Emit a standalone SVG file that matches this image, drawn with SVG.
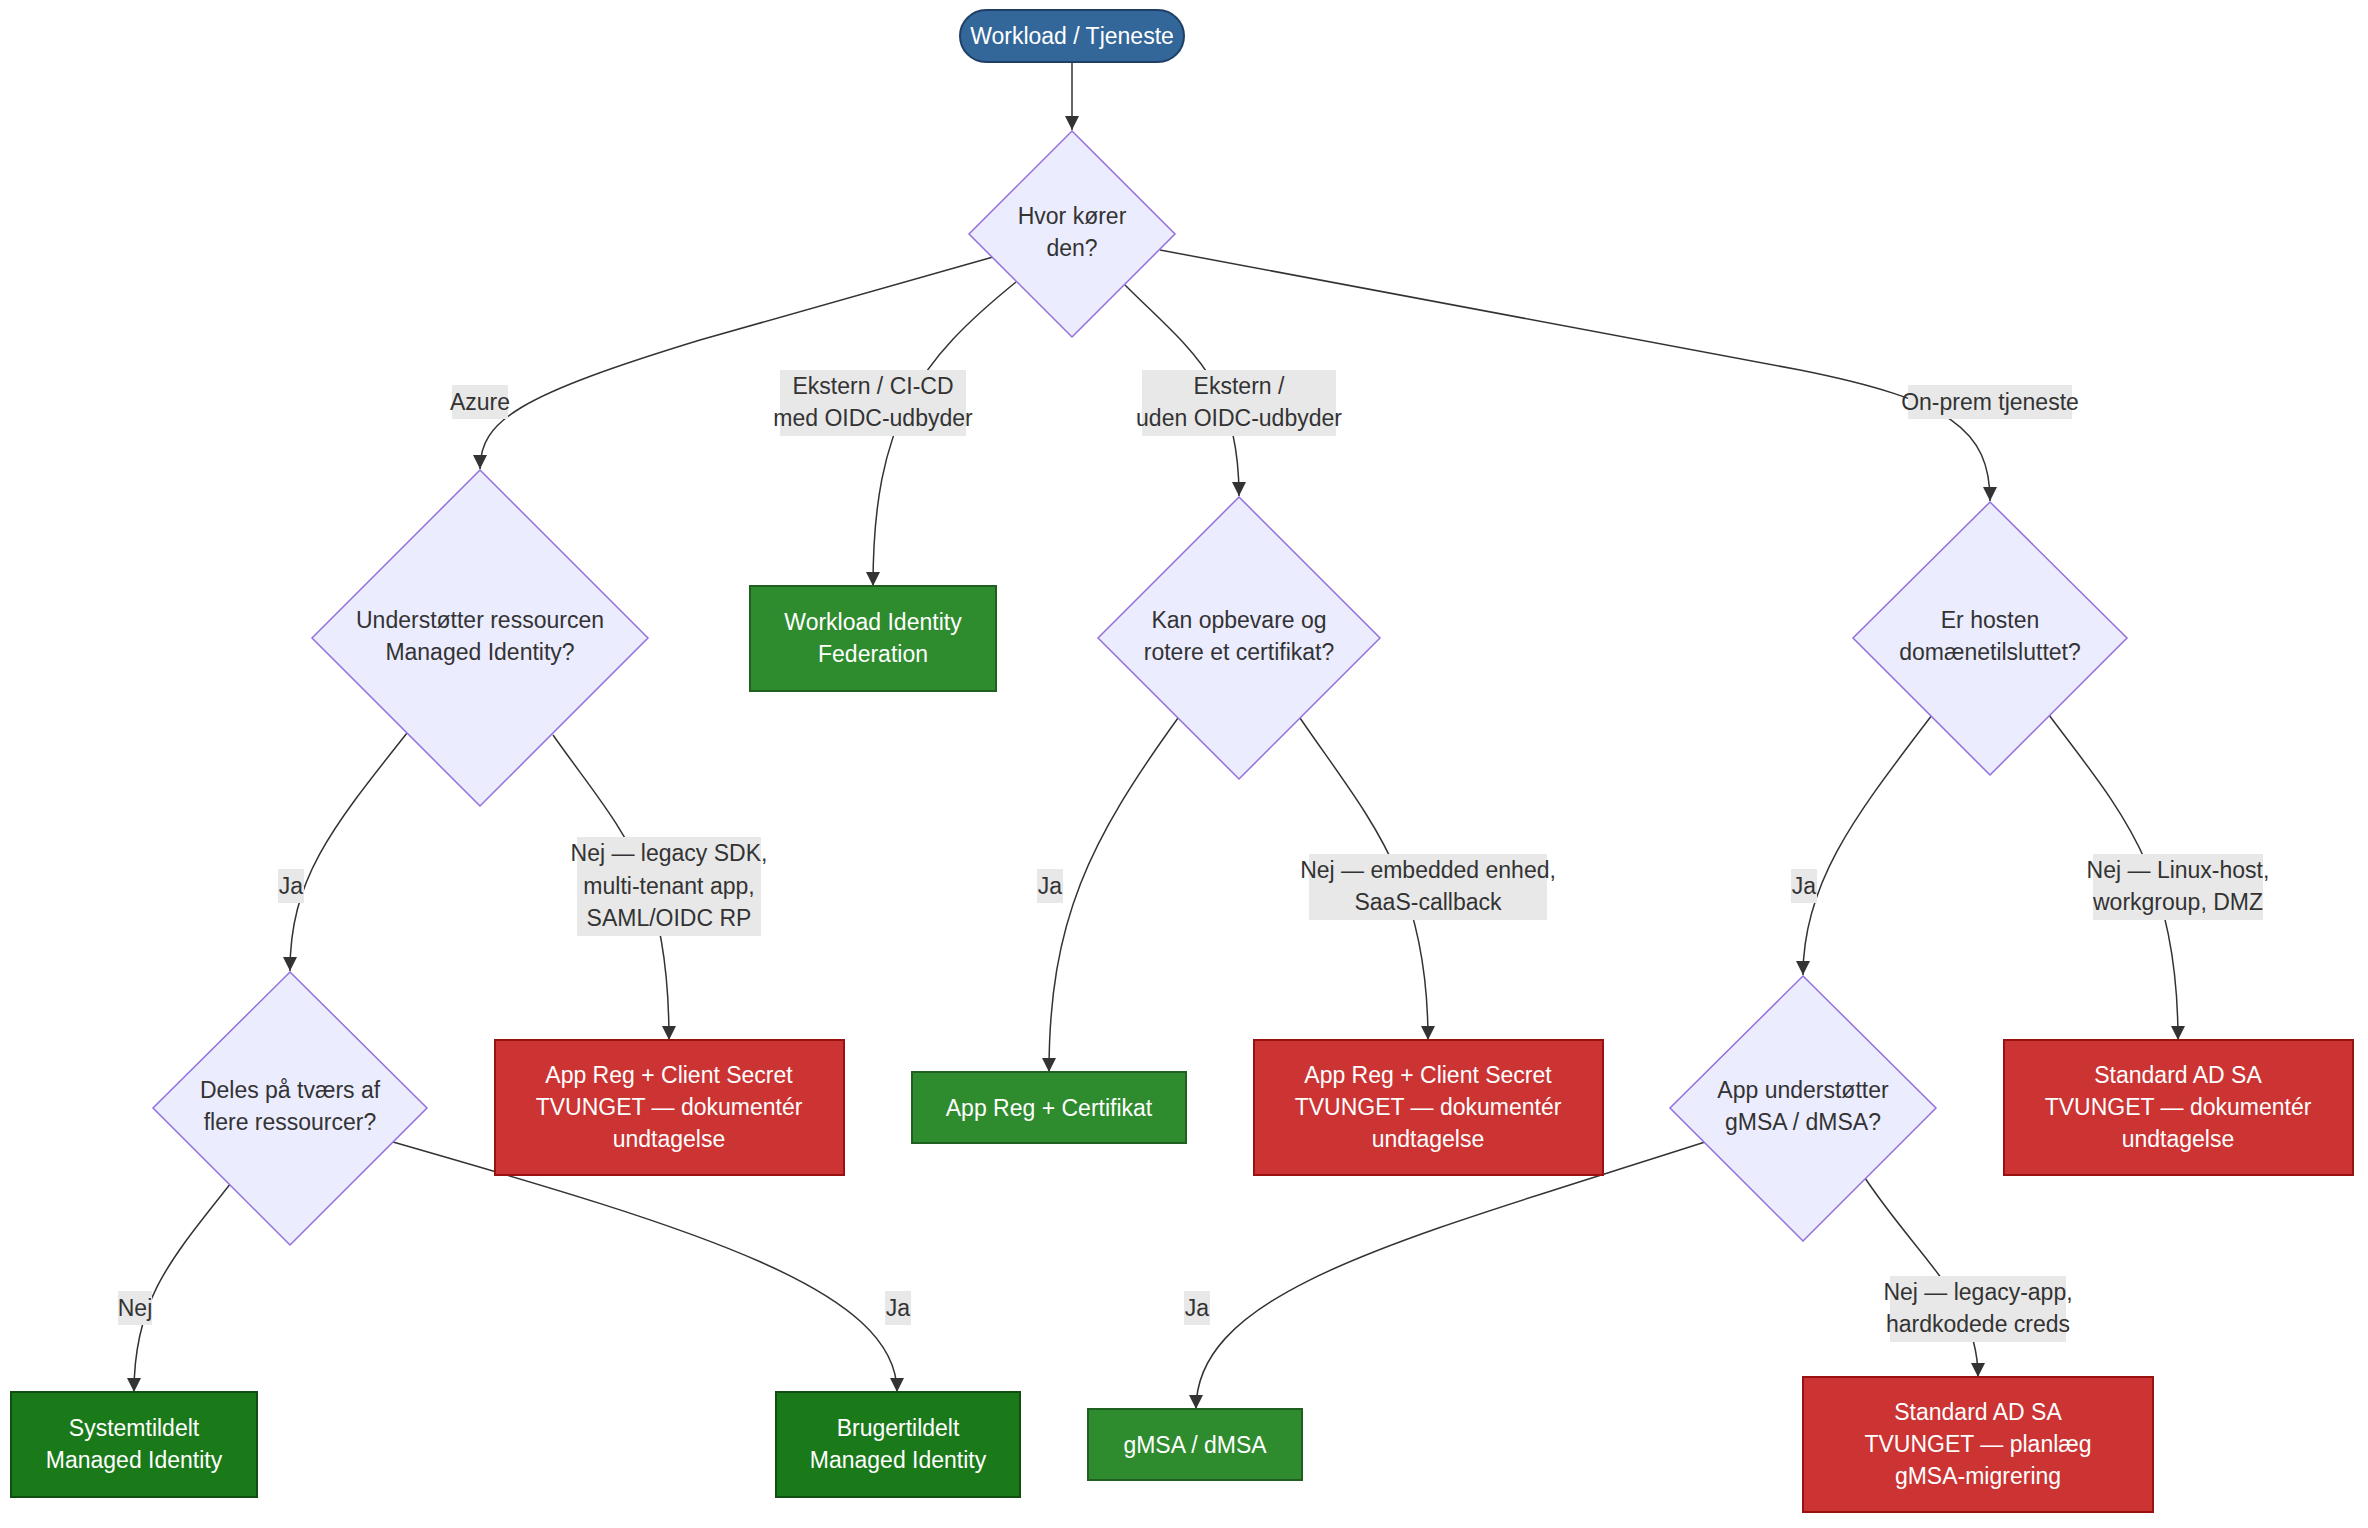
<svg xmlns="http://www.w3.org/2000/svg" width="2368" height="1528" viewBox="0 0 2368 1528">
<defs>
<marker id="arr" viewBox="0 0 10 10" refX="10" refY="5" markerWidth="14" markerHeight="14" markerUnits="userSpaceOnUse" orient="auto"><path d="M0,0 L10,5 L0,10 z" fill="#333"/></marker>
<style>
text{font-family:"Liberation Sans",Arial,sans-serif;font-size:23px;text-anchor:middle;dominant-baseline:central}
.dk{fill:#333}.wt{fill:#fff}
.dia{fill:#ececff;stroke:#9370db;stroke-width:1.5}
.g{fill:#2e8b2e;stroke:#1f5f1f;stroke-width:2}
.g2{fill:#1a7a1a;stroke:#0f4f0f;stroke-width:2}
.r{fill:#cc3333;stroke:#991111;stroke-width:2}
.e{fill:none;stroke:#333;stroke-width:1.5;marker-end:url(#arr)}
.lb{fill:#e8e8e8}
</style>
</defs>
<rect width="2368" height="1528" fill="#fff"/>
<g id="connectors">
<path class="e" d="M1072,62 L1072,130"/>
<path class="e" d="M993,257 L700,340 C520,395 480,420 480,469"/>
<path class="e" d="M1016,282 C920,360 873,420 873,586"/>
<path class="e" d="M1125,285 C1190,350 1239,380 1239,496"/>
<path class="e" d="M1160,250 L1800,370 C1950,400 1990,430 1990,501"/>
<path class="e" d="M407,733 C330,830 290,880 290,971"/>
<path class="e" d="M553,735 C620,830 669,870 669,1040"/>
<path class="e" d="M1178,718 C1090,840 1049,920 1049,1072"/>
<path class="e" d="M1300,718 C1370,820 1428,880 1428,1040"/>
<path class="e" d="M1932,715 C1860,810 1803,880 1803,975"/>
<path class="e" d="M2049,715 C2120,810 2178,870 2178,1040"/>
<path class="e" d="M231,1183 C170,1260 134,1300 134,1392"/>
<path class="e" d="M393,1142 C700,1230 897,1290 897,1392"/>
<path class="e" d="M1705,1142 C1400,1240 1196,1290 1196,1409"/>
<path class="e" d="M1865,1178 C1920,1260 1978,1300 1978,1377"/>
</g>
<g id="labels">
<rect class="lb" x="452" y="385" width="56" height="34"/><text class="dk" x="480" y="402">Azure</text>
<rect class="lb" x="780" y="370" width="186" height="66"/><text class="dk" x="873" y="386">Ekstern / CI-CD</text><text class="dk" x="873" y="418">med OIDC-udbyder</text>
<rect class="lb" x="1142" y="370" width="194" height="66"/><text class="dk" x="1239" y="386">Ekstern /</text><text class="dk" x="1239" y="418">uden OIDC-udbyder</text>
<rect class="lb" x="1908" y="385" width="164" height="34"/><text class="dk" x="1990" y="402">On-prem tjeneste</text>
<rect class="lb" x="278" y="869" width="26" height="34"/><text class="dk" x="291" y="886">Ja</text>
<rect class="lb" x="577" y="837" width="184" height="99"/><text class="dk" x="669" y="853">Nej — legacy SDK,</text><text class="dk" x="669" y="886">multi-tenant app,</text><text class="dk" x="669" y="918">SAML/OIDC RP</text>
<rect class="lb" x="1037" y="869" width="26" height="34"/><text class="dk" x="1050" y="886">Ja</text>
<rect class="lb" x="1309" y="854" width="238" height="66"/><text class="dk" x="1428" y="870">Nej — embedded enhed,</text><text class="dk" x="1428" y="902">SaaS-callback</text>
<rect class="lb" x="1791" y="869" width="26" height="34"/><text class="dk" x="1804" y="886">Ja</text>
<rect class="lb" x="2093" y="854" width="170" height="66"/><text class="dk" x="2178" y="870">Nej — Linux-host,</text><text class="dk" x="2178" y="902">workgroup, DMZ</text>
<rect class="lb" x="118" y="1291" width="34" height="34"/><text class="dk" x="135" y="1308">Nej</text>
<rect class="lb" x="885" y="1291" width="26" height="34"/><text class="dk" x="898" y="1308">Ja</text>
<rect class="lb" x="1184" y="1291" width="26" height="34"/><text class="dk" x="1197" y="1308">Ja</text>
<rect class="lb" x="1890" y="1276" width="176" height="66"/><text class="dk" x="1978" y="1292">Nej — legacy-app,</text><text class="dk" x="1978" y="1324">hardkodede creds</text>
</g>
<g id="start"><rect x="960" y="10" width="224" height="52" rx="26" fill="#336699" stroke="#1f3f66" stroke-width="2"/><text class="wt" x="1072" y="36">Workload / Tjeneste</text></g>
<g id="d1"><polygon class="dia" points="1072,131 1175,234 1072,337 969,234"/><text class="dk" x="1072" y="216">Hvor kører</text><text class="dk" x="1072" y="248">den?</text></g>
<g id="d2"><polygon class="dia" points="480,470 648,638 480,806 312,638"/><text class="dk" x="480" y="620">Understøtter ressourcen</text><text class="dk" x="480" y="652">Managed Identity?</text></g>
<g id="wif"><rect class="g" x="750" y="586" width="246" height="105"/><text class="wt" x="873" y="622">Workload Identity</text><text class="wt" x="873" y="654">Federation</text></g>
<g id="d3"><polygon class="dia" points="1239,497 1380,638 1239,779 1098,638"/><text class="dk" x="1239" y="620">Kan opbevare og</text><text class="dk" x="1239" y="652">rotere et certifikat?</text></g>
<g id="d4"><polygon class="dia" points="1990,502 2127,638 1990,775 1853,638"/><text class="dk" x="1990" y="620">Er hosten</text><text class="dk" x="1990" y="652">domænetilsluttet?</text></g>
<g id="d5"><polygon class="dia" points="290,972 427,1108 290,1245 153,1108"/><text class="dk" x="290" y="1090">Deles på tværs af</text><text class="dk" x="290" y="1122">flere ressourcer?</text></g>
<g id="red1"><rect class="r" x="495" y="1040" width="349" height="135"/><text class="wt" x="669" y="1075">App Reg + Client Secret</text><text class="wt" x="669" y="1107">TVUNGET — dokumentér</text><text class="wt" x="669" y="1139">undtagelse</text></g>
<g id="cert"><rect class="g" x="912" y="1072" width="274" height="71"/><text class="wt" x="1049" y="1108">App Reg + Certifikat</text></g>
<g id="red2"><rect class="r" x="1254" y="1040" width="349" height="135"/><text class="wt" x="1428" y="1075">App Reg + Client Secret</text><text class="wt" x="1428" y="1107">TVUNGET — dokumentér</text><text class="wt" x="1428" y="1139">undtagelse</text></g>
<g id="d6"><polygon class="dia" points="1803,976 1936,1108 1803,1241 1670,1108"/><text class="dk" x="1803" y="1090">App understøtter</text><text class="dk" x="1803" y="1122">gMSA / dMSA?</text></g>
<g id="red3"><rect class="r" x="2004" y="1040" width="349" height="135"/><text class="wt" x="2178" y="1075">Standard AD SA</text><text class="wt" x="2178" y="1107">TVUNGET — dokumentér</text><text class="wt" x="2178" y="1139">undtagelse</text></g>
<g id="sys"><rect class="g2" x="11" y="1392" width="246" height="105"/><text class="wt" x="134" y="1428">Systemtildelt</text><text class="wt" x="134" y="1460">Managed Identity</text></g>
<g id="bru"><rect class="g2" x="776" y="1392" width="244" height="105"/><text class="wt" x="898" y="1428">Brugertildelt</text><text class="wt" x="898" y="1460">Managed Identity</text></g>
<g id="gmsa"><rect class="g" x="1088" y="1409" width="214" height="71"/><text class="wt" x="1195" y="1445">gMSA / dMSA</text></g>
<g id="red4"><rect class="r" x="1803" y="1377" width="350" height="135"/><text class="wt" x="1978" y="1412">Standard AD SA</text><text class="wt" x="1978" y="1444">TVUNGET — planlæg</text><text class="wt" x="1978" y="1476">gMSA-migrering</text></g>
</svg>
